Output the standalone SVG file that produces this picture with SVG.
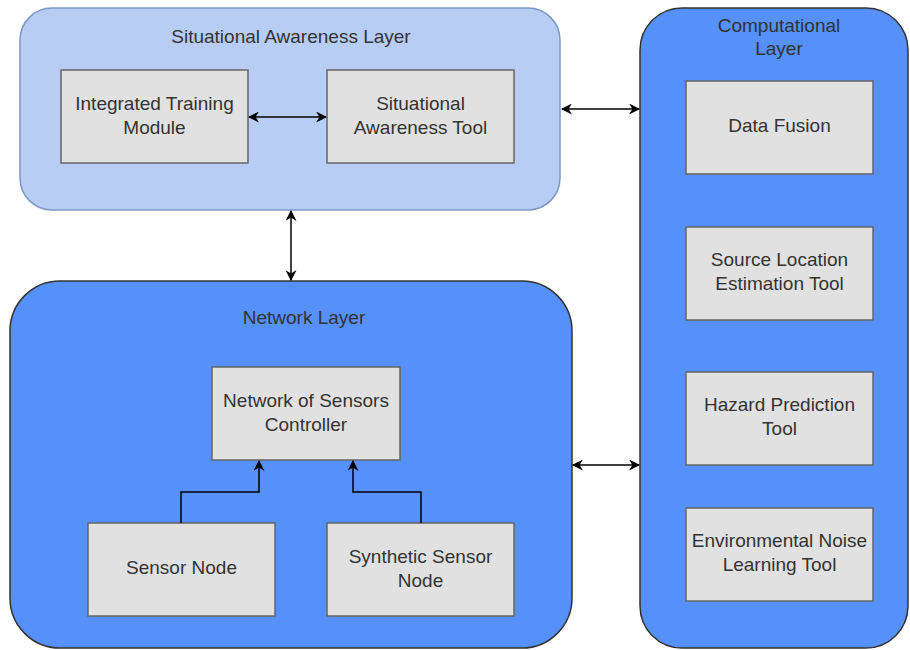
<svg xmlns="http://www.w3.org/2000/svg" width="910" height="650" viewBox="0 0 910 650">
<defs>
<marker id="ah" viewBox="0 0 10 10" refX="9" refY="5" markerWidth="11" markerHeight="11" markerUnits="userSpaceOnUse" orient="auto-start-reverse">
<path d="M0,0 L10,5 L0,10 L3,5 Z" fill="#000"/>
</marker>
<style>
.box{fill:#e1e1e1;stroke:#666;stroke-width:1.5}
.t{font-family:"Liberation Sans",Arial,sans-serif;font-size:19px;fill:#333;text-anchor:middle}
.c{fill:none;stroke:#000;stroke-width:1.5}
</style>
</defs>
<rect width="910" height="650" fill="#fff"/>
<g id="sa-layer">
<rect x="20" y="8" width="540" height="202" rx="32" fill="#b8cdf3" stroke="#7c98c6" stroke-width="1.5"/>
<text class="t" x="291" y="43">Situational Awareness Layer</text>
</g>
<g id="integrated-training">
<rect class="box" x="61" y="70" width="187" height="93"/>
<text class="t" x="154.5" y="110">Integrated Training</text>
<text class="t" x="154.5" y="134">Module</text>
</g>
<g id="sa-tool">
<rect class="box" x="327" y="70" width="187" height="93"/>
<text class="t" x="420.5" y="110">Situational</text>
<text class="t" x="420.5" y="134">Awareness Tool</text>
</g>
<g id="network-layer">
<rect x="10" y="281" width="562" height="367" rx="50" fill="#5590fb" stroke="#333" stroke-width="1.5"/>
<text class="t" x="304" y="324">Network Layer</text>
</g>
<g id="nsc">
<rect class="box" x="212" y="367" width="188" height="93"/>
<text class="t" x="306" y="407">Network of Sensors</text>
<text class="t" x="306" y="431">Controller</text>
</g>
<g id="sensor-node">
<rect class="box" x="88" y="523" width="187" height="93"/>
<text class="t" x="181.5" y="574">Sensor Node</text>
</g>
<g id="synthetic-sensor-node">
<rect class="box" x="327" y="523" width="187" height="93"/>
<text class="t" x="420.5" y="563">Synthetic Sensor</text>
<text class="t" x="420.5" y="587">Node</text>
</g>
<g id="computational-layer">
<rect x="640" y="8" width="268" height="640" rx="42" fill="#5590fb" stroke="#333" stroke-width="1.5"/>
<text class="t" x="779" y="32">Computational</text>
<text class="t" x="779" y="55">Layer</text>
</g>
<g id="data-fusion">
<rect class="box" x="686" y="81" width="187" height="93"/>
<text class="t" x="779.5" y="132">Data Fusion</text>
</g>
<g id="source-location">
<rect class="box" x="686" y="227" width="187" height="93"/>
<text class="t" x="779.5" y="266">Source Location</text>
<text class="t" x="779.5" y="290">Estimation Tool</text>
</g>
<g id="hazard-prediction">
<rect class="box" x="686" y="372" width="187" height="93"/>
<text class="t" x="779.5" y="411">Hazard Prediction</text>
<text class="t" x="779.5" y="435">Tool</text>
</g>
<g id="env-noise">
<rect class="box" x="686" y="508" width="187" height="93"/>
<text class="t" x="779.5" y="547">Environmental Noise</text>
<text class="t" x="779.5" y="571">Learning Tool</text>
</g>
<g id="connectors">
<line class="c" x1="249" y1="117" x2="326" y2="117" marker-start="url(#ah)" marker-end="url(#ah)"/>
<line class="c" x1="291" y1="211" x2="291" y2="280" marker-start="url(#ah)" marker-end="url(#ah)"/>
<line class="c" x1="562" y1="109" x2="639" y2="109" marker-start="url(#ah)" marker-end="url(#ah)"/>
<line class="c" x1="573" y1="465" x2="639" y2="465" marker-start="url(#ah)" marker-end="url(#ah)"/>
<polyline class="c" points="181,523 181,492 259,492 259,461" marker-end="url(#ah)"/>
<polyline class="c" points="421,523 421,492 353,492 353,461" marker-end="url(#ah)"/>
</g>
</svg>
